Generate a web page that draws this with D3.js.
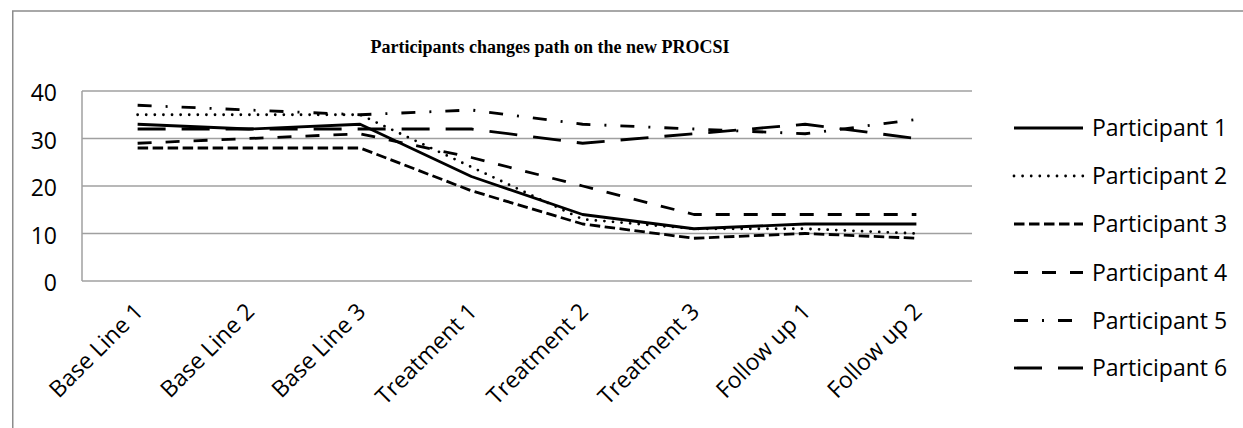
<!DOCTYPE html>
<html>
<head>
<meta charset="utf-8">
<script src="https://cdn.jsdelivr.net/npm/d3@7/dist/d3.min.js"></script>
<style>
  html, body { margin: 0; padding: 0; background: #fff; }
  svg { display: block; }
</style>
</head>
<body>
<svg id="chart" width="1243" height="428"></svg>
<script>
// ---- data ----
const categories = ["Base Line 1", "Base Line 2", "Base Line 3", "Treatment 1", "Treatment 2", "Treatment 3", "Follow up 1", "Follow up 2"];
const seriesNames = ["Participant 1", "Participant 2", "Participant 3", "Participant 4", "Participant 5", "Participant 6"];
const participant1 = [33, 32, 33, 22, 14, 11, 12, 12];
const participant2 = [35, 35, 35, 24, 13, 11, 11, 10];
const participant3 = [28, 28, 28, 19, 12, 9, 10, 9];
const participant4 = [29, 30, 31, 26, 20, 14, 14, 14];
const participant5 = [37, 36, 35, 36, 33, 32, 31, 34];
const participant6 = [32, 32, 32, 32, 29, 31, 33, 30];
const yTicks = [0, 10, 20, 30, 40];
const title = "Participants changes path on the new PROCSI";

const seriesValues = [participant1, participant2, participant3, participant4, participant5, participant6];

// ---- styles ----
const sans = "'Open Sans', 'Noto Sans', sans-serif";
const styles = [
  { dash: null, cap: "butt", width: 2.8 },
  { dash: "0 8.6", cap: "round", width: 2.8 },
  { dash: "10.5 4.5", cap: "butt", width: 2.8 },
  { dash: "14 14", cap: "butt", width: 2.8 },
  { dash: "14 14 2 14", cap: "butt", width: 2.8 },
  { dash: "28 16", cap: "butt", width: 2.8 }
];

const svg = d3.select("#chart");

// outer chart border
svg.append("path")
  .attr("d", "M12.75,440 L12.75,11 L1260,11")
  .attr("fill", "none").attr("stroke", "#8c8c8c").attr("stroke-width", 1.5);

const plot = { left: 82, right: 972, top: 91, bottom: 281 };

const x = d3.scalePoint().domain(categories).range([plot.left, plot.right]).padding(0.5);
const y = d3.scaleLinear().domain([0, 40]).range([plot.bottom, plot.top]);

// gridlines
svg.append("g").selectAll("line").data(yTicks).join("line")
  .attr("x1", plot.left).attr("x2", plot.right)
  .attr("y1", d => y(d)).attr("y2", d => y(d))
  .attr("stroke", "#a0a0a0").attr("stroke-width", 1.5);

// y axis line
svg.append("line")
  .attr("x1", plot.left).attr("x2", plot.left)
  .attr("y1", y(40)).attr("y2", y(0))
  .attr("stroke", "#a0a0a0").attr("stroke-width", 1.5);

// y tick labels
svg.append("g").selectAll("text").data(yTicks).join("text")
  .attr("x", 57).attr("y", d => y(d) + 10)
  .attr("text-anchor", "end")
  .attr("font-family", sans).attr("font-size", 23).attr("fill", "#000")
  .text(d => d);

// x labels
svg.append("g").selectAll("text").data(categories).join("text")
  .attr("text-anchor", "end")
  .attr("transform", d => `translate(${x(d) + 7},${313}) rotate(-45)`)
  .attr("font-family", sans).attr("font-size", 23).attr("fill", "#000")
  .text(d => d);

// lines
const line = d3.line().x((d, i) => x(categories[i])).y(d => y(d));
svg.append("g").selectAll("path").data(seriesValues).join("path")
  .attr("d", d => line(d))
  .attr("fill", "none").attr("stroke", "#000")
  .attr("stroke-width", (d, i) => styles[i].width)
  .attr("stroke-dasharray", (d, i) => styles[i].dash)
  .attr("stroke-linecap", (d, i) => styles[i].cap)
  .attr("stroke-linejoin", "round");

// title
svg.append("text")
  .attr("x", 550).attr("y", 53)
  .attr("text-anchor", "middle")
  .attr("font-family", "'Liberation Serif', 'Times New Roman', serif")
  .attr("font-weight", "bold").attr("font-size", 18).attr("fill", "#000")
  .text(title);

// legend
const legendRowY = [128, 176, 224, 272.5, 320.5, 368];
const lg = svg.append("g").selectAll("g").data(seriesNames).join("g")
  .attr("transform", (d, i) => `translate(0,${legendRowY[i]})`);
lg.append("line")
  .attr("x1", 1014).attr("x2", 1083).attr("y1", 0).attr("y2", 0)
  .attr("stroke", "#000")
  .attr("stroke-width", (d, i) => styles[i].width)
  .attr("stroke-dasharray", (d, i) => styles[i].dash)
  .attr("stroke-linecap", (d, i) => styles[i].cap);
lg.append("text")
  .attr("x", 1092).attr("y", 8)
  .attr("font-family", sans).attr("font-size", 23).attr("fill", "#000")
  .text(d => d);
</script>
</body>
</html>
